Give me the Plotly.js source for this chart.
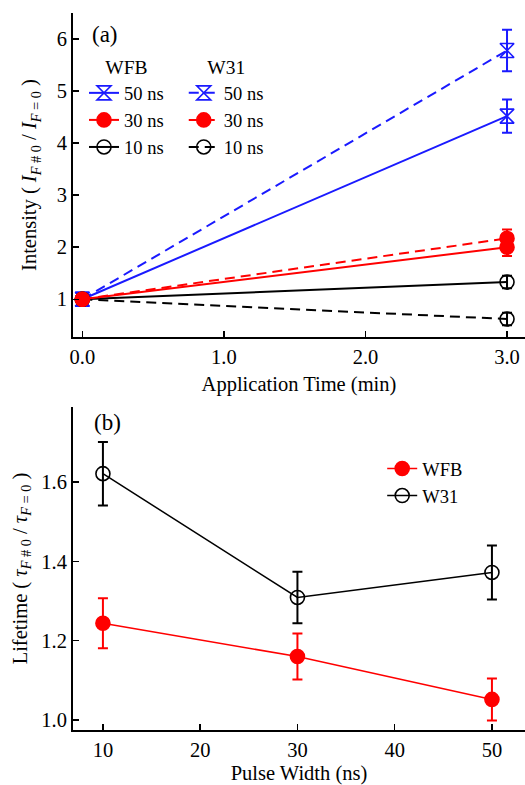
<!DOCTYPE html>
<html>
<head>
<meta charset="utf-8">
<script src="https://cdn.plot.ly/plotly-3.0.1.min.js"></script>
<style>
html,body{margin:0;padding:0;background:#fff}
#chart{width:525px;height:785px}
#chart text, #chart tspan { font-family: 'Liberation Serif', serif !important; }
</style>
</head>
<body>
<div id="chart"></div>
<script>
// Panel (a): application time (min)
const timeMin = [0, 3];
const wfb50 = [1.0, 4.52], wfb50Err = [0.09, 0.32];
const wfb30 = [1.0, 2.00], wfb30Err = [0.08, 0.17];
const wfb10 = [1.0, 1.33], wfb10Err = [0.08, 0.12];
const w3150 = [1.0, 5.78], w3150Err = [0.09, 0.40];
const w3130 = [1.0, 2.17], w3130Err = [0.08, 0.17];
const w3110 = [1.0, 0.62], w3110Err = [0.08, 0.12];
const pulseLabels = ["50 ns", "30 ns", "10 ns"];

// Panel (b): pulse width (ns)
const pulseWidth = [10, 30, 50];
const lifeWFB = [1.244, 1.160, 1.052], lifeWFBErr = [0.063, 0.058, 0.053];
const lifeW31 = [1.621, 1.309, 1.372], lifeW31Err = [0.08, 0.065, 0.068];

const BLUE = '#1a1aff', RED = '#ff0000', BLACK = '#000000';
function F(size) { return {family: 'Liberation Serif', size: size || 20.5, color: '#000000'}; }

function tr(x, y, err, name, color, symbol, dash, legend, rank, xa, ya) {
  return {
    x: x, y: y, name: name, type: 'scatter', mode: 'lines+markers',
    xaxis: xa, yaxis: ya, legend: legend, legendrank: rank,
    line: {color: color, width: 2, dash: dash},
    marker: {symbol: symbol, size: 14, color: color, line: {color: color, width: 1.6}},
    error_y: {type: 'data', array: err, visible: true, color: color, thickness: 2, width: 5}
  };
}
const DASH = '10px,6px';
const data = [
  tr(timeMin, w3150, w3150Err, pulseLabels[0], BLUE, 'hourglass-open', DASH, 'legend2', 1, 'x', 'y'),
  tr(timeMin, wfb50, wfb50Err, pulseLabels[0], BLUE, 'hourglass-open', 'solid', 'legend', 1, 'x', 'y'),
  tr(timeMin, w3110, w3110Err, pulseLabels[2], BLACK, 'circle-open', DASH, 'legend2', 3, 'x', 'y'),
  tr(timeMin, wfb10, wfb10Err, pulseLabels[2], BLACK, 'circle-open', 'solid', 'legend', 3, 'x', 'y'),
  tr(timeMin, w3130, w3130Err, pulseLabels[1], RED, 'circle', DASH, 'legend2', 2, 'x', 'y'),
  tr(timeMin, wfb30, wfb30Err, pulseLabels[1], RED, 'circle', 'solid', 'legend', 2, 'x', 'y'),
  tr(pulseWidth, lifeWFB, lifeWFBErr, 'WFB', RED, 'circle', 'solid', 'legend3', 1, 'x2', 'y2'),
  tr(pulseWidth, lifeW31, lifeW31Err, 'W31', BLACK, 'circle-open', 'solid', 'legend3', 2, 'x2', 'y2')
];
data[6].line.width = 1.5; data[7].line.width = 1.5;

function ax(extra) {
  return Object.assign({
    showline: true, linecolor: '#000', linewidth: 2, mirror: false,
    ticks: 'inside', ticklen: 6, tickwidth: 1.5, tickcolor: '#000',
    showgrid: false, zeroline: false, tickfont: F(20.5), automargin: false
  }, extra);
}
function leg(extra) {
  return Object.assign({font: F(18.5), bgcolor: 'rgba(0,0,0,0)', xanchor: 'left', yanchor: 'top',
    tracegroupgap: 0, itemclick: false}, extra);
}

const layout = {
  width: 525, height: 785, margin: {l: 0, r: 0, t: 0, b: 0},
  paper_bgcolor: '#fff', plot_bgcolor: '#fff', showlegend: true,
  font: F(20.5),
  xaxis: ax({domain: [0.139, 1], range: [-0.066, 3.127], anchor: 'y',
    tickvals: [0, 1, 2, 3], tickformat: '.1f',
    title: {text: 'Application Time (min)', font: F(20.5), standoff: 10}}),
  yaxis: ax({domain: [0.5707, 0.9834], range: [0.275, 6.5], anchor: 'x',
    tickvals: [1, 2, 3, 4, 5, 6],
    title: {text: 'Intensity ( <i>I</i><sub><i>F</i> # 0</sub> / <i>I</i><sub><i>F</i> = 0</sub> )', font: F(20.5), standoff: 14}}),
  xaxis2: ax({domain: [0.139, 1], range: [6.92, 53.4], anchor: 'y2',
    tickvals: [10, 20, 30, 40, 50],
    title: {text: 'Pulse Width (ns)', font: F(20.5), standoff: 10}}),
  yaxis2: ax({domain: [0.0701, 0.4815], range: [0.975, 1.789], anchor: 'x2',
    tickvals: [1.0, 1.2, 1.4, 1.6], tickformat: '.1f',
    title: {text: 'Lifetime ( <i>τ</i><sub><i>F</i> # 0</sub> / <i>τ</i><sub><i>F</i> = 0</sub> )', font: F(20.5), standoff: 8}}),
  legend: leg({x: 0.16, y: 0.9376, title: {text: 'WFB', font: F(19.5), side: 'top center'}}),
  legend2: leg({x: 0.350, y: 0.9376, title: {text: 'W31', font: F(19.5), side: 'top center'}}),
  legend3: leg({x: 0.728, y: 0.4268}),
  annotations: [
    {text: '(a)', xref: 'paper', yref: 'paper', x: 104.5 / 525, y: 1 - 35 / 785, showarrow: false,
     font: F(23), xanchor: 'center', yanchor: 'middle'},
    {text: '(b)', xref: 'paper', yref: 'paper', x: 107.5 / 525, y: 1 - 422 / 785, showarrow: false,
     font: F(23), xanchor: 'center', yanchor: 'middle'}
  ]
};

function draw() { Plotly.newPlot('chart', data, layout, {displayModeBar: false, staticPlot: true}); }
if (document.fonts && document.fonts.load) {
  document.fonts.load("20px 'Liberation Serif'").then(draw, draw);
} else {
  draw();
}
</script>
</body>
</html>
